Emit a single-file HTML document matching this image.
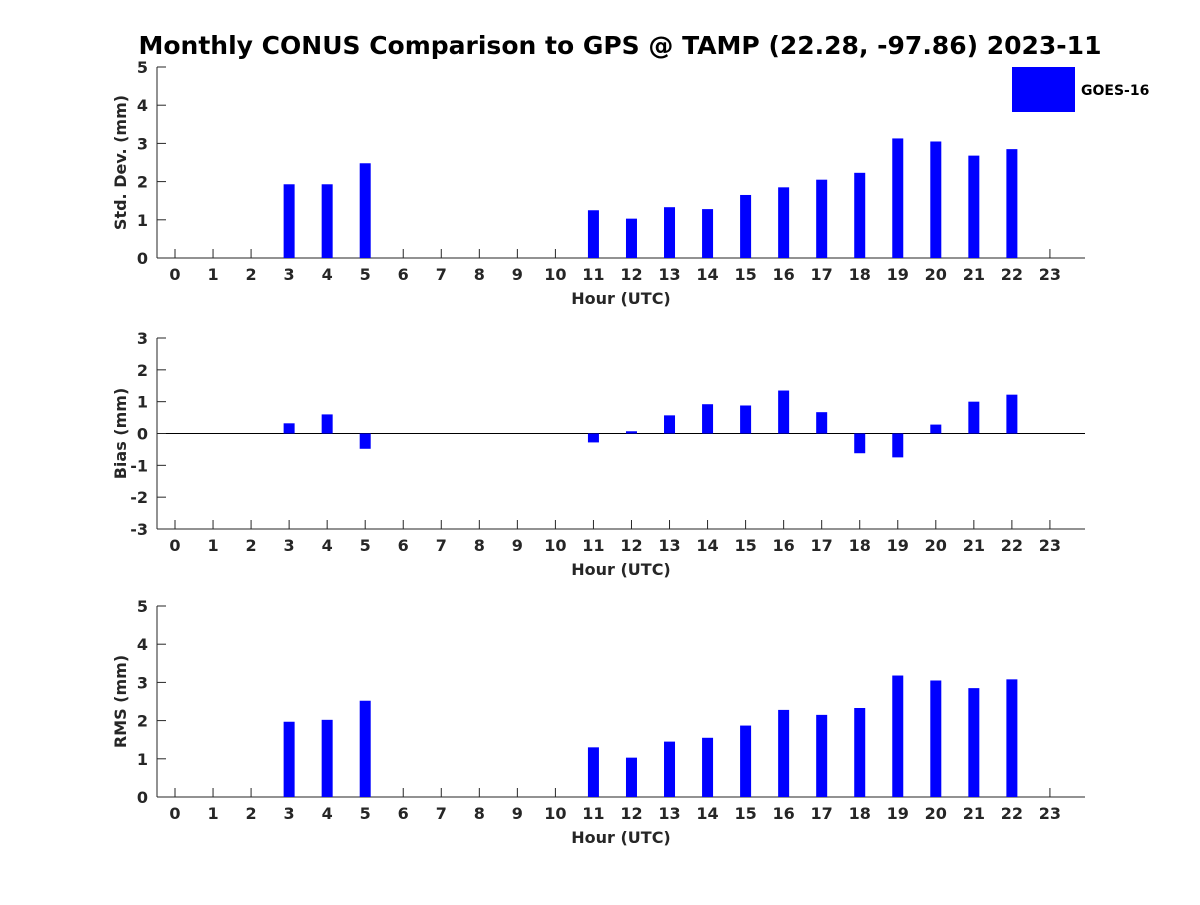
<!DOCTYPE html>
<html><head><meta charset="utf-8"><style>
body{margin:0;background:#fff;}
svg text{font-family:"DejaVu Sans","Liberation Sans",sans-serif;font-weight:bold;fill:#262626;}
</style></head><body>
<svg id="chart" width="1200" height="900" xmlns="http://www.w3.org/2000/svg">
<rect width="1200" height="900" fill="#fff"/>
<text x="620" y="54" text-anchor="middle" font-size="25" style="fill:#000">Monthly CONUS Comparison to GPS @ TAMP (22.28, -97.86) 2023-11</text>
<rect x="1012" y="67" width="63" height="45" fill="#0000ff"/>
<text x="1081" y="95" font-size="14" style="fill:#000">GOES-16</text>
</svg>
<script>
const hours=[3,4,5,11,12,13,14,15,16,17,18,19,20,21,22];
const stdValues=[1.93,1.93,2.48,1.25,1.03,1.33,1.28,1.65,1.85,2.05,2.23,3.13,3.05,2.68,2.85];
const biasValues=[0.32,0.6,-0.48,-0.28,0.07,0.57,0.92,0.88,1.35,0.67,-0.62,-0.75,0.28,1.0,1.22];
const rmsValues=[1.97,2.02,2.52,1.3,1.03,1.45,1.55,1.87,2.28,2.15,2.33,3.18,3.05,2.85,3.08];
const stdTicks=[0,1,2,3,4,5];
const biasTicks=[-3,-2,-1,0,1,2,3];
const rmsTicks=[0,1,2,3,4,5];
const hourTicks=[...Array(24).keys()];

const svg=document.getElementById('chart');
const NS='http://www.w3.org/2000/svg';
function el(tag,attrs,parent){const e=document.createElementNS(NS,tag);for(const k in attrs)e.setAttribute(k,attrs[k]);(parent||svg).appendChild(e);return e;}
const X0=157,X1=1085;
function xScale(h){return 175+h*38.04;}

function panel(name,top,bottom,ymin,ymax,ticks,vals,ylabel){
  const g=el('g',{});
  
  
  const y=v=>bottom-(v-ymin)/(ymax-ymin)*(bottom-top);
  const ya=el('line',{x1:X0,y1:top,x2:X0,y2:bottom,stroke:'#262626','stroke-width':1},g);
  
  
  const xa=el('line',{x1:X0,y1:bottom,x2:X1,y2:bottom,stroke:'#262626','stroke-width':1},g);
  
  
  if(ymin<0){const z=el('line',{x1:X0,y1:y(0),x2:X1,y2:y(0),stroke:'#000','stroke-width':1},g);
    
    }
  ticks.forEach(t=>{
    el('line',{x1:X0,y1:y(t),x2:X0+9,y2:y(t),stroke:'#262626'},g);
    const tx=el('text',{x:X0-9,y:y(t)+6,'text-anchor':'end','font-size':16},g);
    tx.textContent=t;
    
    
  });
  hourTicks.forEach(h=>{
    el('line',{x1:xScale(h),y1:bottom,x2:xScale(h),y2:bottom-9,stroke:'#262626'},g);
    const tx=el('text',{x:xScale(h),y:bottom+22,'text-anchor':'middle','font-size':16},g);
    tx.textContent=h;
    
    
  });
  const xl=el('text',{x:621,y:bottom+46,'text-anchor':'middle','font-size':16},g);
  xl.textContent='Hour (UTC)';
  
  
  const cy=(top+bottom)/2;
  const yl=el('text',{x:0,y:0,'text-anchor':'middle','font-size':16,transform:`translate(126,${cy}) rotate(-90)`},g);
  yl.textContent=ylabel;
  
  
  hours.forEach((h,i)=>{
    const v=vals[i];const y0=y(0),yv=y(v);
    const b=el('rect',{x:xScale(h)-5.5,y:Math.min(y0,yv),width:11,height:Math.abs(y0-yv),fill:'#0000ff'},g);
    
    
  });
}
panel('std-dev',67,258,0,5,stdTicks,stdValues,'Std. Dev. (mm)');
panel('bias',338,529,-3,3,biasTicks,biasValues,'Bias (mm)');
panel('rms',606,797,0,5,rmsTicks,rmsValues,'RMS (mm)');
</script>
</body></html>
